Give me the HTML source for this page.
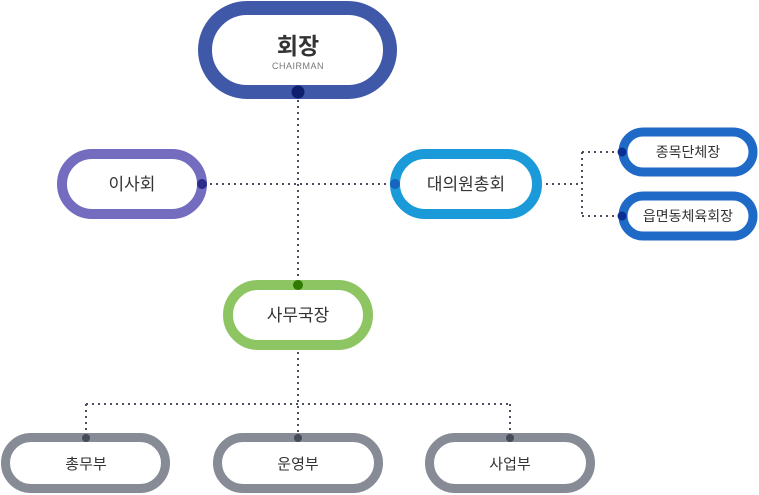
<!DOCTYPE html>
<html><head><meta charset="utf-8">
<style>
html,body{margin:0;padding:0;background:#fff;}
svg{display:block;}
text{font-family:"Liberation Sans","Noto Sans CJK KR",sans-serif;fill:#333;}
</style></head>
<body>
<svg width="759" height="495" viewBox="0 0 759 495" xmlns="http://www.w3.org/2000/svg">
<g stroke="#4a5060" stroke-width="2" stroke-dasharray="2 4" fill="none">
  <line x1="298" y1="100" x2="298" y2="280"/>
  <line x1="210" y1="184" x2="388" y2="184"/>
  <line x1="546" y1="184" x2="582" y2="184"/>
  <line x1="582" y1="152" x2="582" y2="216"/>
  <line x1="582" y1="152" x2="618" y2="152"/>
  <line x1="582" y1="216" x2="618" y2="216"/>
  <line x1="298" y1="352" x2="298" y2="434"/>
  <line x1="86" y1="404" x2="510" y2="404"/>
  <line x1="86" y1="404" x2="86" y2="434"/>
  <line x1="510" y1="404" x2="510" y2="434"/>
</g>
<!-- 회장 -->
<rect x="205" y="8" width="185" height="84" rx="42" fill="#fff" stroke="#3f58a8" stroke-width="14"/>
<text x="298" y="54" text-anchor="middle" font-size="23" font-weight="bold">회장</text>
<text x="298" y="69" text-anchor="middle" font-size="9" style="fill:#777;letter-spacing:0.5px">CHAIRMAN</text>
<circle cx="298" cy="92" r="6.5" fill="#0e1f6e"/>
<!-- 이사회 -->
<rect x="62" y="154" width="140" height="60" rx="30" fill="#fff" stroke="#736cbf" stroke-width="10"/>
<text x="132" y="190" text-anchor="middle" font-size="17">이사회</text>
<circle cx="202" cy="184" r="5" fill="#2b2d8a"/>
<!-- 대의원총회 -->
<rect x="395" y="154" width="142" height="60" rx="30" fill="#fff" stroke="#1a9ad9" stroke-width="10"/>
<text x="466" y="190" text-anchor="middle" font-size="17">대의원총회</text>
<circle cx="395" cy="184" r="5" fill="#1565c0"/>
<!-- 종목단체장 -->
<rect x="623" y="132" width="130" height="40" rx="20" fill="#fff" stroke="#1f6ac6" stroke-width="9"/>
<text x="688" y="157" text-anchor="middle" font-size="14">종목단체장</text>
<circle cx="622" cy="152" r="4.5" fill="#0a2f94"/>
<!-- 읍면동체육회장 -->
<rect x="623" y="196" width="130" height="40" rx="20" fill="#fff" stroke="#1f6ac6" stroke-width="9"/>
<text x="688" y="221" text-anchor="middle" font-size="14">읍면동체육회장</text>
<circle cx="622" cy="216" r="4.5" fill="#0a2f94"/>
<!-- 사무국장 -->
<rect x="228" y="285" width="140" height="60" rx="30" fill="#fff" stroke="#8dc563" stroke-width="10"/>
<text x="298" y="321" text-anchor="middle" font-size="17">사무국장</text>
<circle cx="298" cy="285" r="5" fill="#2f7a00"/>
<!-- bottom -->
<rect x="5.5" y="437.5" width="160" height="51" rx="25.5" fill="#fff" stroke="#868b96" stroke-width="9"/>
<text x="86" y="469" text-anchor="middle" font-size="15">총무부</text>
<circle cx="86" cy="438" r="4" fill="#464b58"/>
<rect x="217.5" y="437.5" width="161" height="51" rx="25.5" fill="#fff" stroke="#868b96" stroke-width="9"/>
<text x="298" y="469" text-anchor="middle" font-size="15">운영부</text>
<circle cx="298" cy="438" r="4" fill="#464b58"/>
<rect x="429.5" y="437.5" width="161" height="51" rx="25.5" fill="#fff" stroke="#868b96" stroke-width="9"/>
<text x="510" y="469" text-anchor="middle" font-size="15">사업부</text>
<circle cx="510" cy="438" r="4" fill="#464b58"/>
</svg>
</body></html>
